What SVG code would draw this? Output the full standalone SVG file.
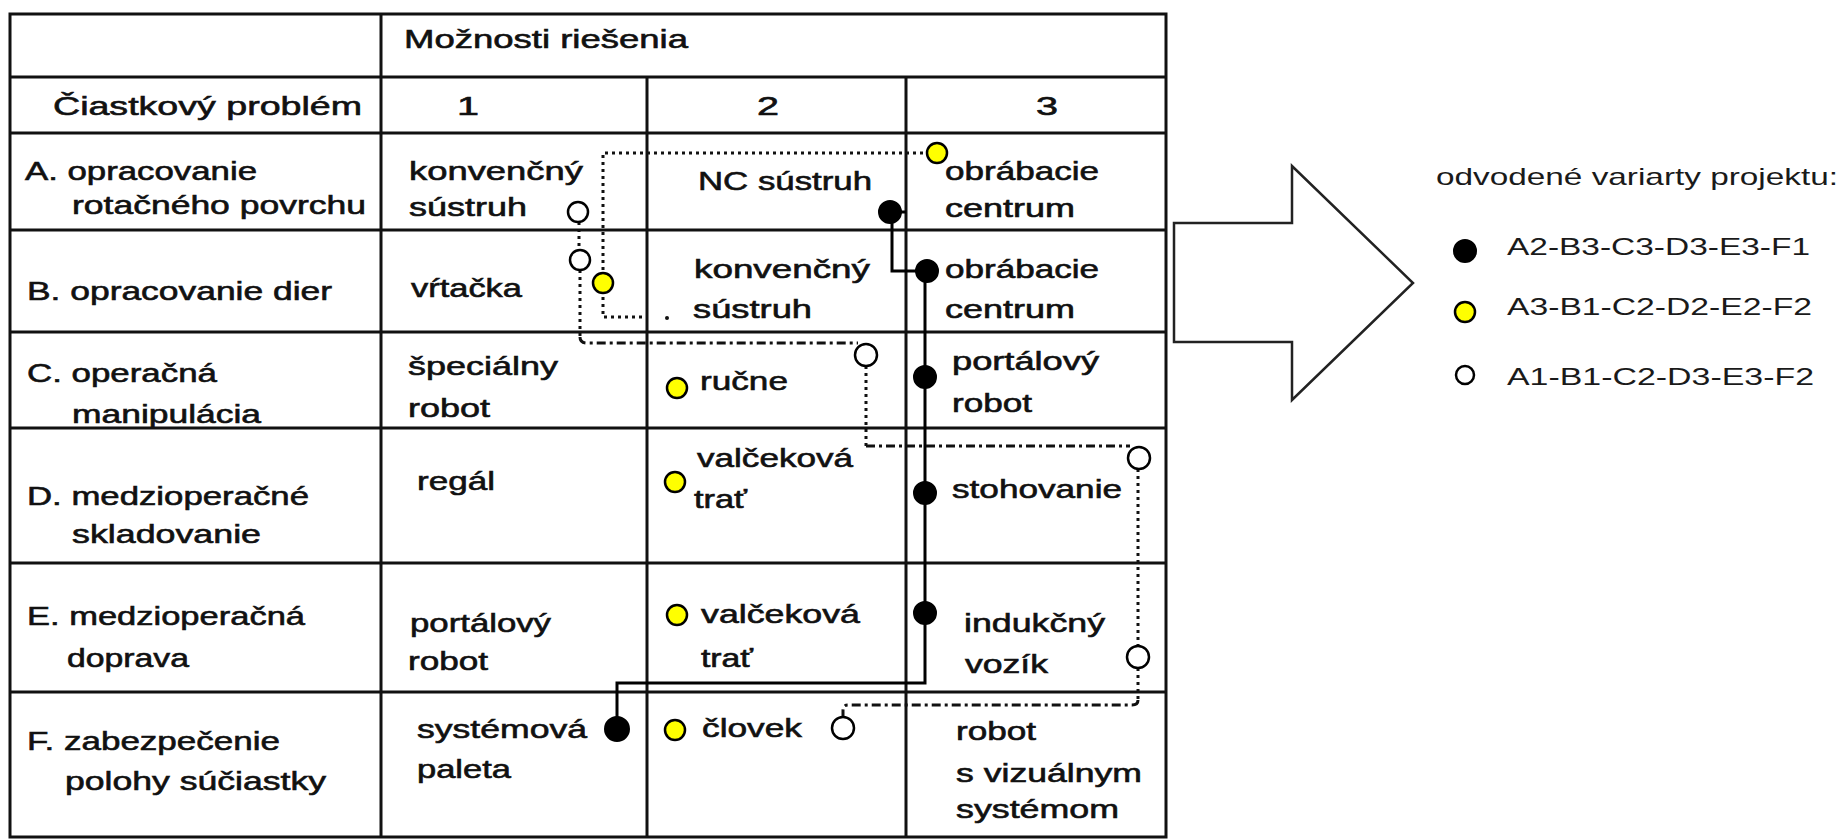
<svg xmlns="http://www.w3.org/2000/svg" width="1842" height="840" viewBox="0 0 1842 840">
  <style>
    .grid { fill: none; stroke: #111; stroke-width: 3; }
    .t { font-family: "Liberation Sans", Arial, sans-serif; font-size: 26px; fill: #111; stroke: #111; stroke-width: 0.6; }
    .lg { font-family: "Liberation Sans", Arial, sans-serif; font-size: 24px; fill: #1a1a1a; }
    .solid { fill: none; stroke: #000; stroke-width: 3; }
    .dots { fill: none; stroke: #111; stroke-width: 3; stroke-dasharray: 3 4; }
    .dashdot { fill: none; stroke: #111; stroke-width: 3; stroke-dasharray: 9 4 3 4; }
    .mk-black { fill: #000; stroke: #000; stroke-width: 2; }
    .mk-yellow { fill: #ffff00; stroke: #000; stroke-width: 2.5; }
    .mk-open { fill: #fff; stroke: #000; stroke-width: 2.5; }
  </style>

  <rect width="1842" height="840" fill="#fff"/>

  <!-- morphological box grid -->
  <g id="grid">
    <rect class="grid" x="10" y="14" width="1156" height="823"/>
    <line class="grid" x1="10" y1="77" x2="1166" y2="77"/>
    <line class="grid" x1="10" y1="133" x2="1166" y2="133"/>
    <line class="grid" x1="10" y1="230" x2="1166" y2="230"/>
    <line class="grid" x1="10" y1="332" x2="1166" y2="332"/>
    <line class="grid" x1="10" y1="428" x2="1166" y2="428"/>
    <line class="grid" x1="10" y1="563" x2="1166" y2="563"/>
    <line class="grid" x1="10" y1="692" x2="1166" y2="692"/>
    <line class="grid" x1="381" y1="14" x2="381" y2="837"/>
    <line class="grid" x1="647" y1="77" x2="647" y2="837"/>
    <line class="grid" x1="906" y1="77" x2="906" y2="837"/>
  </g>

  <!-- header rows -->
  <g id="header">
    <text class="t" x="404" y="48" textLength="284" lengthAdjust="spacingAndGlyphs">Možnosti riešenia</text>
    <text class="t" x="53" y="115" textLength="309" lengthAdjust="spacingAndGlyphs">Čiastkový problém</text>
    <text class="t" x="457" y="115" textLength="22" lengthAdjust="spacingAndGlyphs">1</text>
    <text class="t" x="757" y="115" textLength="22" lengthAdjust="spacingAndGlyphs">2</text>
    <text class="t" x="1036" y="115" textLength="22" lengthAdjust="spacingAndGlyphs">3</text>
  </g>

  <g id="row-A">
    <text class="t" x="25" y="180" textLength="232" lengthAdjust="spacingAndGlyphs">A. opracovanie</text>
    <text class="t" x="72" y="214" textLength="294" lengthAdjust="spacingAndGlyphs">rotačného povrchu</text>
    <text class="t" x="409" y="180" textLength="174" lengthAdjust="spacingAndGlyphs">konvenčný</text>
    <text class="t" x="409" y="216" textLength="118" lengthAdjust="spacingAndGlyphs">sústruh</text>
    <text class="t" x="698" y="190" textLength="174" lengthAdjust="spacingAndGlyphs">NC sústruh</text>
    <text class="t" x="945" y="180" textLength="154" lengthAdjust="spacingAndGlyphs">obrábacie</text>
    <text class="t" x="945" y="217" textLength="130" lengthAdjust="spacingAndGlyphs">centrum</text>
  </g>

  <g id="row-B">
    <text class="t" x="27" y="300" textLength="305" lengthAdjust="spacingAndGlyphs">B. opracovanie dier</text>
    <text class="t" x="411" y="297" textLength="111" lengthAdjust="spacingAndGlyphs">vŕtačka</text>
    <text class="t" x="694" y="278" textLength="176" lengthAdjust="spacingAndGlyphs">konvenčný</text>
    <text class="t" x="693" y="318" textLength="119" lengthAdjust="spacingAndGlyphs">sústruh</text>
    <text class="t" x="945" y="278" textLength="154" lengthAdjust="spacingAndGlyphs">obrábacie</text>
    <text class="t" x="945" y="318" textLength="130" lengthAdjust="spacingAndGlyphs">centrum</text>
  </g>

  <g id="row-C">
    <text class="t" x="27" y="382" textLength="190" lengthAdjust="spacingAndGlyphs">C. operačná</text>
    <text class="t" x="72" y="423" textLength="189" lengthAdjust="spacingAndGlyphs">manipulácia</text>
    <text class="t" x="408" y="375" textLength="150" lengthAdjust="spacingAndGlyphs">špeciálny</text>
    <text class="t" x="408" y="417" textLength="82" lengthAdjust="spacingAndGlyphs">robot</text>
    <text class="t" x="700" y="390" textLength="88" lengthAdjust="spacingAndGlyphs">ručne</text>
    <text class="t" x="952" y="370" textLength="147" lengthAdjust="spacingAndGlyphs">portálový</text>
    <text class="t" x="952" y="412" textLength="80" lengthAdjust="spacingAndGlyphs">robot</text>
  </g>

  <g id="row-D">
    <text class="t" x="27" y="505" textLength="282" lengthAdjust="spacingAndGlyphs">D. medzioperačné</text>
    <text class="t" x="72" y="543" textLength="189" lengthAdjust="spacingAndGlyphs">skladovanie</text>
    <text class="t" x="417" y="490" textLength="78" lengthAdjust="spacingAndGlyphs">regál</text>
    <text class="t" x="697" y="467" textLength="156" lengthAdjust="spacingAndGlyphs">valčeková</text>
    <text class="t" x="694" y="508" textLength="53" lengthAdjust="spacingAndGlyphs">trať</text>
    <text class="t" x="952" y="498" textLength="170" lengthAdjust="spacingAndGlyphs">stohovanie</text>
  </g>

  <g id="row-E">
    <text class="t" x="27" y="625" textLength="278" lengthAdjust="spacingAndGlyphs">E. medzioperačná</text>
    <text class="t" x="67" y="667" textLength="122" lengthAdjust="spacingAndGlyphs">doprava</text>
    <text class="t" x="410" y="632" textLength="141" lengthAdjust="spacingAndGlyphs">portálový</text>
    <text class="t" x="408" y="670" textLength="80" lengthAdjust="spacingAndGlyphs">robot</text>
    <text class="t" x="701" y="623" textLength="159" lengthAdjust="spacingAndGlyphs">valčeková</text>
    <text class="t" x="701" y="667" textLength="52" lengthAdjust="spacingAndGlyphs">trať</text>
    <text class="t" x="964" y="632" textLength="141" lengthAdjust="spacingAndGlyphs">indukčný</text>
    <text class="t" x="965" y="673" textLength="83" lengthAdjust="spacingAndGlyphs">vozík</text>
  </g>

  <g id="row-F">
    <text class="t" x="27" y="750" textLength="253" lengthAdjust="spacingAndGlyphs">F. zabezpečenie</text>
    <text class="t" x="65" y="790" textLength="261" lengthAdjust="spacingAndGlyphs">polohy súčiastky</text>
    <text class="t" x="417" y="738" textLength="170" lengthAdjust="spacingAndGlyphs">systémová</text>
    <text class="t" x="417" y="778" textLength="94" lengthAdjust="spacingAndGlyphs">paleta</text>
    <text class="t" x="702" y="737" textLength="100" lengthAdjust="spacingAndGlyphs">človek</text>
    <text class="t" x="956" y="740" textLength="80" lengthAdjust="spacingAndGlyphs">robot</text>
    <text class="t" x="956" y="782" textLength="186" lengthAdjust="spacingAndGlyphs">s vizuálnym</text>
    <text class="t" x="956" y="818" textLength="163" lengthAdjust="spacingAndGlyphs">systémom</text>
  </g>

  <!-- variant paths through the box -->
  <g id="connectors">
    <!-- A2-B3-C3-D3-E3-F1 -->
    <path class="solid" d="M 890 212 H 906"/>
    <path class="solid" d="M 892 212 V 271 H 925"/>
    <path class="solid" d="M 925 271 V 683 H 617 V 728"/>
    <!-- A3-B1-C2-D2-E2-F2 -->
    <path class="dots" d="M 930 153 H 603 V 283"/>
    <path class="dots" d="M 603 290 V 317 H 642"/>
    <circle cx="667" cy="318" r="2" fill="#111"/>
    <!-- A1-B1-C2-D3-E3-F2 -->
    <path class="dots" d="M 579 222 V 250"/>
    <path class="dots" d="M 580 270 V 337"/>
    <path class="dashdot" d="M 580 337 Q 580 343 587 343 H 858"/>
    <path class="dots" d="M 866 366 V 446"/>
    <path class="dashdot" d="M 866 446 H 1130"/>
    <path class="dots" d="M 1138 469 V 646"/>
    <path class="dots" d="M 1138 668 V 700"/>
    <path class="dashdot" d="M 1138 700 Q 1138 705 1132 705 H 848 Q 843 705 843 710 V 717"/>
  </g>

  <g id="markers-black">
    <circle class="mk-black" cx="890" cy="212" r="11"/>
    <circle class="mk-black" cx="927" cy="271" r="11"/>
    <circle class="mk-black" cx="925" cy="377" r="11"/>
    <circle class="mk-black" cx="925" cy="493" r="11"/>
    <circle class="mk-black" cx="925" cy="613" r="11"/>
    <circle class="mk-black" cx="617" cy="729" r="12"/>
  </g>

  <g id="markers-yellow">
    <circle class="mk-yellow" cx="937" cy="153" r="10"/>
    <circle class="mk-yellow" cx="603" cy="283" r="10"/>
    <circle class="mk-yellow" cx="677" cy="388" r="10"/>
    <circle class="mk-yellow" cx="675" cy="482" r="10"/>
    <circle class="mk-yellow" cx="677" cy="615" r="10"/>
    <circle class="mk-yellow" cx="675" cy="730" r="10"/>
  </g>

  <g id="markers-open">
    <circle class="mk-open" cx="578" cy="212" r="10"/>
    <circle class="mk-open" cx="580" cy="260" r="10"/>
    <circle class="mk-open" cx="866" cy="355" r="11"/>
    <circle class="mk-open" cx="1139" cy="458" r="11"/>
    <circle class="mk-open" cx="1138" cy="657" r="11"/>
    <circle class="mk-open" cx="843" cy="728" r="11"/>
  </g>

  <!-- big outline arrow -->
  <g id="arrow">
    <polygon points="1174,223 1292,223 1292,166 1413,283 1292,400 1292,342 1174,342" fill="#fff" stroke="#222" stroke-width="2.5" stroke-linejoin="miter"/>
  </g>

  <!-- derived variants -->
  <g id="legend">
    <text class="lg" x="1436" y="185" textLength="402" lengthAdjust="spacingAndGlyphs">odvodené variarty projektu:</text>
    <circle class="mk-black" cx="1465" cy="251" r="11"/>
    <text class="lg" x="1507" y="255" textLength="303" lengthAdjust="spacingAndGlyphs">A2-B3-C3-D3-E3-F1</text>
    <circle class="mk-yellow" cx="1465" cy="312" r="10"/>
    <text class="lg" x="1507" y="315" textLength="305" lengthAdjust="spacingAndGlyphs">A3-B1-C2-D2-E2-F2</text>
    <circle class="mk-open" cx="1465" cy="375" r="9"/>
    <text class="lg" x="1507" y="385" textLength="307" lengthAdjust="spacingAndGlyphs">A1-B1-C2-D3-E3-F2</text>
  </g>
</svg>
